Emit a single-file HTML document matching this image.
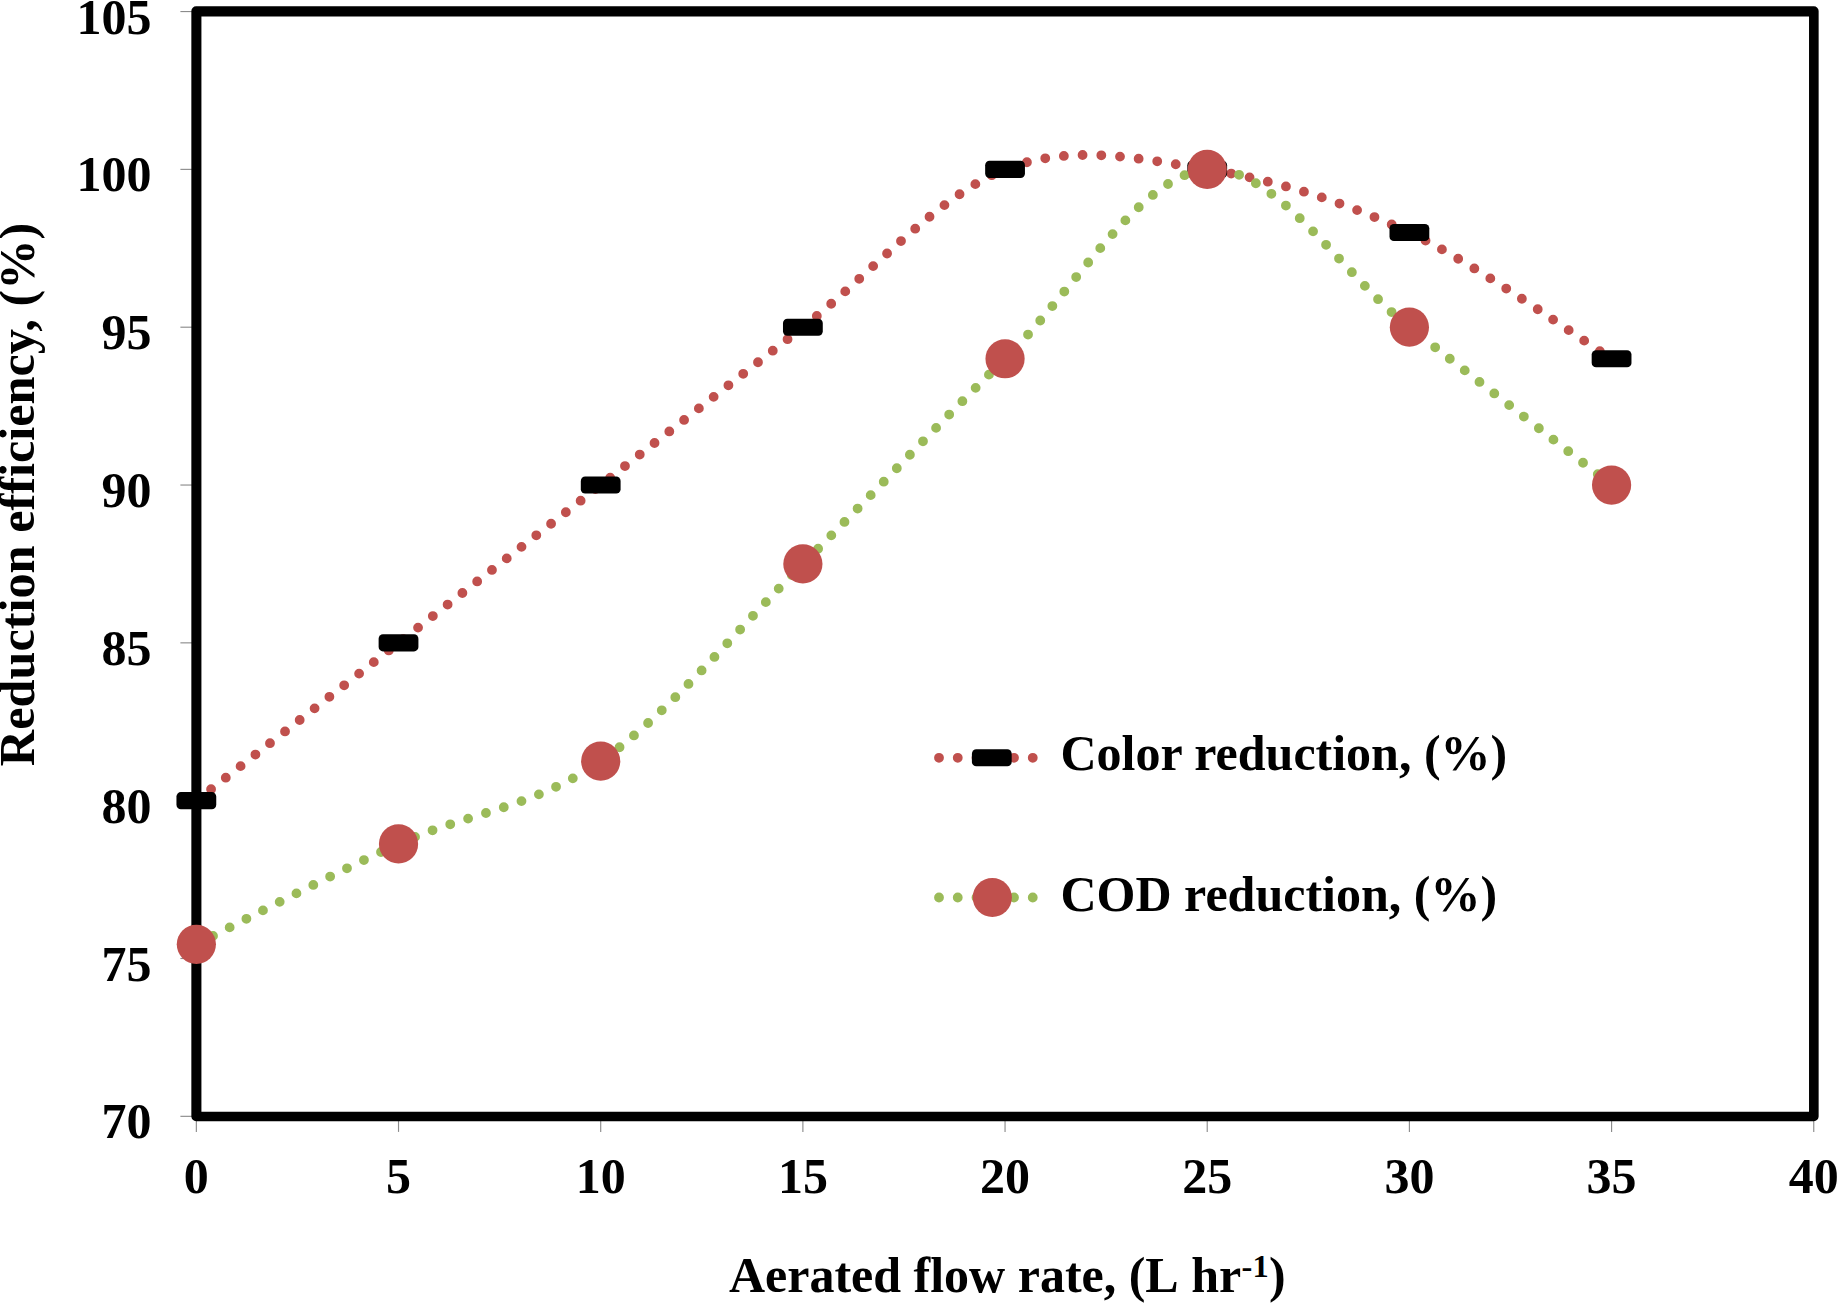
<!DOCTYPE html>
<html lang="en">
<head>
<meta charset="utf-8">
<title>Reduction efficiency vs aerated flow rate</title>
<style>
html,body{margin:0;padding:0;background:#fff;}
body{width:1837px;height:1303px;overflow:hidden;position:relative;}
svg{position:absolute;left:0;top:0;display:block;}
text{font-family:"Liberation Serif",serif;font-weight:bold;font-size:50px;fill:#000;}
.tick{stroke:#8c8c8c;stroke-width:1.15;fill:none;}
</style>
</head>
<body>
<svg width="1837" height="1303" viewBox="0 0 1837 1303">
<rect x="0" y="0" width="1837" height="1303" fill="#ffffff"/>

<g class="tick">
<line x1="180.4" y1="1116.33" x2="192" y2="1116.33"/>
<line x1="180.4" y1="958.50" x2="192" y2="958.50"/>
<line x1="180.4" y1="800.67" x2="192" y2="800.67"/>
<line x1="180.4" y1="642.85" x2="192" y2="642.85"/>
<line x1="180.4" y1="485.03" x2="192" y2="485.03"/>
<line x1="180.4" y1="327.20" x2="192" y2="327.20"/>
<line x1="180.4" y1="169.38" x2="192" y2="169.38"/>
<line x1="180.4" y1="11.55" x2="192" y2="11.55"/>
<line x1="196.35" y1="1120" x2="196.35" y2="1131.9"/>
<line x1="398.52" y1="1120" x2="398.52" y2="1131.9"/>
<line x1="600.70" y1="1120" x2="600.70" y2="1131.9"/>
<line x1="802.88" y1="1120" x2="802.88" y2="1131.9"/>
<line x1="1005.05" y1="1120" x2="1005.05" y2="1131.9"/>
<line x1="1207.22" y1="1120" x2="1207.22" y2="1131.9"/>
<line x1="1409.40" y1="1120" x2="1409.40" y2="1131.9"/>
<line x1="1611.58" y1="1120" x2="1611.58" y2="1131.9"/>
<line x1="1813.75" y1="1120" x2="1813.75" y2="1131.9"/>
</g>
<path fill="#000" fill-rule="evenodd" d="M196.15 6.29 H1813.84 A4.8 4.8 0 0 1 1818.64 11.09 V1116.40 A4.8 4.8 0 0 1 1813.84 1121.20 H196.15 A4.8 4.8 0 0 1 191.35 1116.40 V11.09 A4.8 4.8 0 0 1 196.15 6.29 Z M201.42 16.43 H1809.03 V1111.63 H201.42 Z"/>
<g text-anchor="end">
<text transform="translate(151.5 1138.33) scale(1 1.03)">70</text>
<text transform="translate(151.5 980.50) scale(1 1.03)">75</text>
<text transform="translate(151.5 822.67) scale(1 1.03)">80</text>
<text transform="translate(151.5 664.85) scale(1 1.03)">85</text>
<text transform="translate(151.5 507.03) scale(1 1.03)">90</text>
<text transform="translate(151.5 349.20) scale(1 1.03)">95</text>
<text transform="translate(151.5 191.38) scale(1 1.03)">100</text>
<text transform="translate(151.5 33.55) scale(1 1.03)">105</text>
</g>
<g text-anchor="middle">
<text transform="translate(196.35 1192.5) scale(1 1.03)">0</text>
<text transform="translate(398.52 1192.5) scale(1 1.03)">5</text>
<text transform="translate(600.70 1192.5) scale(1 1.03)">10</text>
<text transform="translate(802.88 1192.5) scale(1 1.03)">15</text>
<text transform="translate(1005.05 1192.5) scale(1 1.03)">20</text>
<text transform="translate(1207.22 1192.5) scale(1 1.03)">25</text>
<text transform="translate(1409.40 1192.5) scale(1 1.03)">30</text>
<text transform="translate(1611.58 1192.5) scale(1 1.03)">35</text>
<text transform="translate(1813.75 1192.5) scale(1 1.03)">40</text>
</g>
<path d="M196.35 800.67 C230.05 774.37 331.13 695.46 398.52 642.85 C465.92 590.24 533.31 537.63 600.70 485.03 C668.09 432.42 735.48 379.81 802.88 327.20 C870.27 274.59 937.66 195.68 1005.05 169.38 C1072.44 143.07 1139.83 158.85 1207.22 169.38 C1274.62 179.90 1342.01 200.94 1409.40 232.51 C1476.79 264.07 1577.88 337.72 1611.58 358.77" fill="none" stroke="#C0504D" stroke-width="9.8" stroke-linecap="round" stroke-dasharray="0 18.75"/>
<g fill="#000">
<rect x="176.45" y="792.12" width="39.8" height="17.1" rx="4.4" ry="4.4"/>
<rect x="378.62" y="634.30" width="39.8" height="17.1" rx="4.4" ry="4.4"/>
<rect x="580.80" y="476.48" width="39.8" height="17.1" rx="4.4" ry="4.4"/>
<rect x="782.98" y="318.65" width="39.8" height="17.1" rx="4.4" ry="4.4"/>
<rect x="985.15" y="160.83" width="39.8" height="17.1" rx="4.4" ry="4.4"/>
<rect x="1187.32" y="160.83" width="39.8" height="17.1" rx="4.4" ry="4.4"/>
<rect x="1389.50" y="223.96" width="39.8" height="17.1" rx="4.4" ry="4.4"/>
<rect x="1591.67" y="350.22" width="39.8" height="17.1" rx="4.4" ry="4.4"/>
</g>
<path d="M196.35 944.30 C230.05 927.57 331.13 874.43 398.52 843.92 C465.92 813.41 533.31 807.88 600.70 761.22 C668.09 714.56 735.48 631.01 802.88 563.94 C870.27 496.86 937.66 424.53 1005.05 358.77 C1072.44 293.00 1139.83 174.64 1207.22 169.38 C1274.62 164.11 1342.01 274.59 1409.40 327.20 C1476.79 379.81 1577.88 458.72 1611.58 485.03" fill="none" stroke="#9BBB59" stroke-width="9.8" stroke-linecap="round" stroke-dasharray="0 18.738"/>
<g fill="#C0504D">
<circle cx="196.35" cy="944.30" r="19.6"/>
<circle cx="398.52" cy="843.92" r="19.6"/>
<circle cx="600.70" cy="761.22" r="19.6"/>
<circle cx="802.88" cy="563.94" r="19.6"/>
<circle cx="1005.05" cy="358.77" r="19.6"/>
<circle cx="1207.22" cy="169.38" r="19.6"/>
<circle cx="1409.40" cy="327.20" r="19.6"/>
<circle cx="1611.58" cy="485.03" r="19.6"/>
</g>
<path d="M939 757.8 H1034" fill="none" stroke="#C0504D" stroke-width="9.8" stroke-linecap="round" stroke-dasharray="0 18.75"/>
<rect x="971.90" y="749.25" width="39.8" height="17.1" rx="4.4" ry="4.4" fill="#000"/>
<path d="M939 897.5 H1034" fill="none" stroke="#9BBB59" stroke-width="9.8" stroke-linecap="round" stroke-dasharray="0 18.75"/>
<circle cx="992.3" cy="897.5" r="19.6" fill="#C0504D"/>
<text x="1060.5" y="770.3">Color reduction, (%)</text>
<text x="1060.5" y="910.6">COD reduction, (%)</text>
<text y="1292.1"><tspan x="728.9">Aerated flow rate, (L </tspan><tspan x="1191.3">hr</tspan><tspan x="1241.6" y="1276.9" font-size="32.5px">-1</tspan><tspan x="1269" y="1292.1">)</tspan></text>
<text transform="translate(34.2 494.5) rotate(-90)" text-anchor="middle" style="font-size:50.3px">Reduction efficiency, (%)</text>
</svg>
</body>
</html>
